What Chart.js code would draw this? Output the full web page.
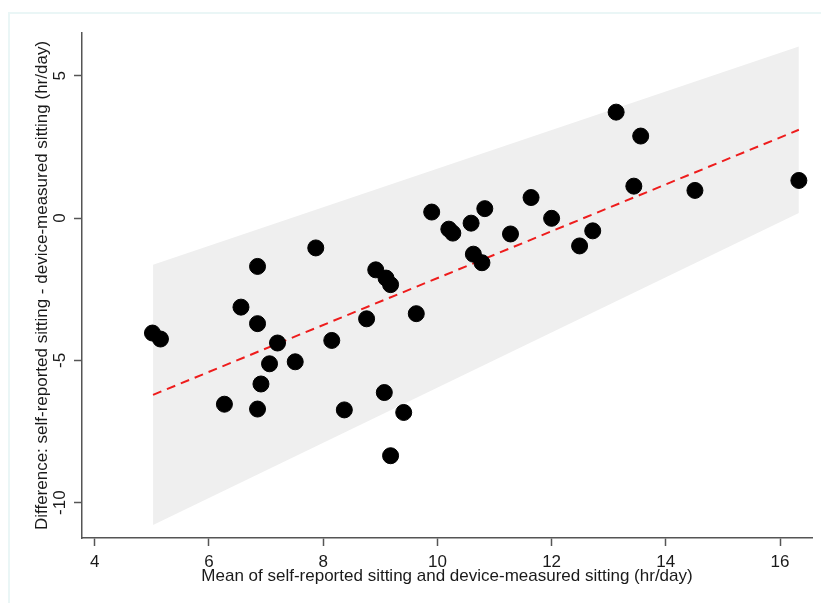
<!DOCTYPE html>
<html>
<head>
<meta charset="utf-8">
<script src="https://cdn.jsdelivr.net/npm/chart.js@4.4.1/dist/chart.umd.min.js"></script>
<style>
  html, body { margin: 0; padding: 0; background: #fff; }
  #wrap { position: relative; width: 821px; height: 603px; }
  #frame { position: absolute; left: 8px; top: 12px; right: 0; bottom: 0;
           border-left: 2px solid #eaf6f6; border-top: 2px solid #eaf6f6; }
  canvas { position: absolute; left: 0; top: 0; }
</style>
</head>
<body>
<div id="wrap">
  <div id="frame"></div>
  <canvas id="chart" width="821" height="603"></canvas>
</div>
<script>
// mean of the two measures (x) and their difference (y), one per participant
const meanSitting = [5.01, 5.15, 6.27, 6.56, 6.85, 6.85, 6.85, 6.91, 7.06, 7.20,
                     7.51, 7.87, 8.15, 8.37, 8.76, 8.92, 9.07, 9.10, 9.18, 9.18,
                     9.41, 9.63, 9.90, 10.20, 10.27, 10.59, 10.63, 10.78, 10.83, 11.28,
                     11.64, 12.00, 12.49, 12.72, 13.13, 13.44, 13.56, 14.51, 16.33];
const diffSitting = [-4.04, -4.25, -6.54, -3.13, -1.70, -3.71, -6.71, -5.83, -5.12, -4.39,
                     -5.05, -1.05, -4.30, -6.74, -3.54, -1.82, -6.13, -2.11, -2.34, -8.35,
                     -6.83, -3.36, 0.21, -0.39, -0.53, -0.18, -1.27, -1.57, 0.33, -0.56,
                     0.72, -0.01, -0.98, -0.45, 3.72, 1.12, 2.88, 0.97, 1.32];

// regression of difference on mean, with limits of agreement
const fitX = [5.02, 16.33];
const fitY = [-6.21, 3.10];
const upperLoA = [-1.64, 6.03];
const lowerLoA = [-10.78, 0.18];

const xTicks = [4, 6, 8, 10, 12, 14, 16];
const yTicks = [-10, -5, 0, 5];

const xTitle = 'Mean of self-reported sitting and device-measured sitting (hr/day)';
const yTitle = 'Difference: self-reported sitting - device-measured sitting (hr/day)';

const pairs = (xs, ys) => xs.map((x, i) => ({ x: x, y: ys[i] }));

const font = { family: "'Liberation Sans', Arial, sans-serif", size: 17 };
const axisColor = '#555';
const textColor = '#1a1a1a';

new Chart(document.getElementById('chart'), {
    type: 'scatter',
    data: {
        datasets: [
            {
                data: pairs(meanSitting, diffSitting),
                backgroundColor: '#000',
                borderColor: '#000',
                pointRadius: 8,
                pointHoverRadius: 8,
                order: 0,
            },
            {
                type: 'line',
                data: pairs(fitX, fitY),
                borderColor: '#ee1c1c',
                borderWidth: 2,
                borderDash: [9, 6],
                pointRadius: 0,
                fill: false,
                order: 1,
            },
            {
                type: 'line',
                data: pairs(fitX, upperLoA),
                borderWidth: 0,
                pointRadius: 0,
                backgroundColor: '#efefef',
                fill: '+1',
                order: 2,
            },
            {
                type: 'line',
                data: pairs(fitX, lowerLoA),
                borderWidth: 0,
                pointRadius: 0,
                fill: false,
                order: 3,
            },
        ],
    },
    options: {
        responsive: false,
        animation: false,
        layout: { padding: { left: 0, top: 33, right: 8, bottom: 0 } },
        plugins: {
            legend: { display: false },
            tooltip: { enabled: false },
        },
        scales: {
            x: {
                type: 'linear',
                min: 3.776,
                max: 16.56,
                afterBuildTicks: axis => { axis.ticks = xTicks.map(v => ({ value: v })); },
                afterFit: axis => { axis.height = 65; },
                grid: { display: true, drawOnChartArea: false, drawTicks: true, tickLength: 8, tickColor: axisColor, tickWidth: 1.5 },
                border: { display: true, color: axisColor, width: 1.5 },
                ticks: { font: font, color: textColor, padding: 6, maxRotation: 0 },
                title: { display: true, text: xTitle, font: font, color: textColor, padding: { top: 0, bottom: 16 } },
            },
            y: {
                type: 'linear',
                min: -11.24,
                max: 6.5,
                afterBuildTicks: axis => { axis.ticks = yTicks.map(v => ({ value: v })); },
                afterFit: axis => { axis.width = 82; },
                grid: { display: true, drawOnChartArea: false, drawTicks: true, tickLength: 8, tickColor: axisColor, tickWidth: 1.5 },
                border: { display: true, color: axisColor, width: 1.5 },
                ticks: { font: font, color: textColor, padding: 1, minRotation: 90, maxRotation: 90, crossAlign: 'center' },
                title: { display: true, text: yTitle, font: font, color: textColor, padding: { top: 32, bottom: 0 } },
            },
        },
    },
});
</script>
</body>
</html>
